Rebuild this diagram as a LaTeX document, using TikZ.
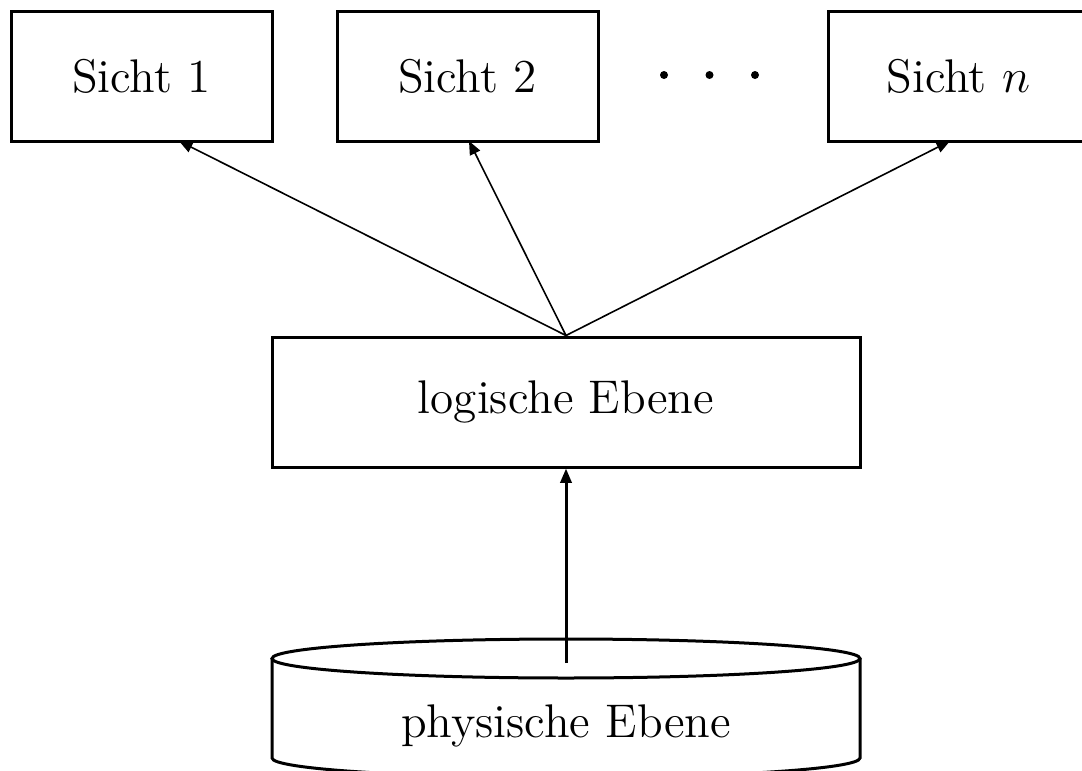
\documentclass[tikz,border=0pt]{standalone}
\usetikzlibrary{arrows.meta}
\begin{document}
\begin{tikzpicture}[x=0.25pt,y=-0.25pt,
  font=\fontsize{11.8}{14}\selectfont,
  box/.style={draw,line width=0.75pt,inner sep=0pt,minimum width=65.25pt,minimum height=32.5pt},
  thin arrow/.style={line width=0.4pt,-{Triangle[length=3.4pt,width=2.8pt]}},
  thick arrow/.style={line width=0.75pt,-{Triangle[length=3.6pt,width=2.8pt]}},
  dot/.style={fill=black}]
\useasboundingbox (0,0) rectangle (1082,771);
\clip (0,0) rectangle (1082,771);

% views
\node[box] (s1) at (141.5,76) {Sicht 1};
\node[box] (s2) at (467.5,76) {Sicht 2};
\node[box] (sn) at (958.5,76) {Sicht $n$};
\fill[dot] (664,75) circle[radius=4];
\fill[dot] (709.5,75) circle[radius=4];
\fill[dot] (755,75) circle[radius=4];

% logical level
\node[box,minimum width=147pt] (logic) at (566,402) {logische Ebene};

% physical level as a cylinder
\draw[line width=0.75pt] (566,658.5) ellipse[x radius=294,y radius=19.5];
\draw[line width=0.75pt] (272,658.5) -- (272,758)
  arc[start angle=180,end angle=0,x radius=294,y radius=19.5] -- (860,658.5);
\node (phys) at (566,726) {physische Ebene};
\coordinate (pstart) at (566,663);

% connectors
\coordinate (t1) at (179,141);
\coordinate (t2) at (469,141);
\coordinate (tn) at (950,141);
\draw[thin arrow] (logic.north) -- (t1);
\draw[thin arrow] (logic.north) -- (t2);
\draw[thin arrow] (logic.north) -- (tn);
\draw[thick arrow] (pstart) -- (logic.south);
\end{tikzpicture}
\end{document}
